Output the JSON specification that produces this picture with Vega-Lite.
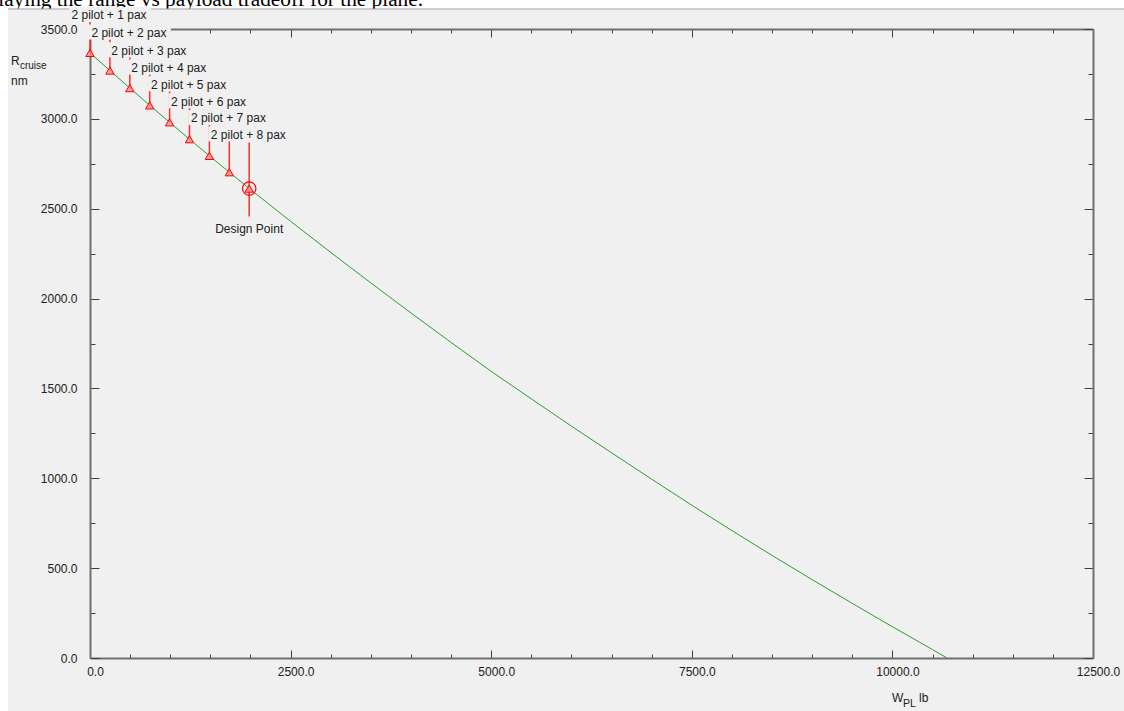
{
  "$schema": "https://vega.github.io/schema/vega-lite/v6.json",
  "width": 1003,
  "height": 629,
  "autosize": {"type": "none"},
  "padding": {"left": 90, "top": 29, "right": 31, "bottom": 53},
  "background": "#f0f0f0",
  "config": {"view": {"stroke": null}, "font": "Liberation Sans"},
  "datasets": {
    "curve": [
      {"W": 0, "R": 3367}, {"W": 250, "R": 3268}, {"W": 500, "R": 3170}, {"W": 750, "R": 3073},
      {"W": 1000, "R": 2978}, {"W": 1250, "R": 2883}, {"W": 1500, "R": 2790}, {"W": 1750, "R": 2698},
      {"W": 2000, "R": 2607}, {"W": 2500, "R": 2430}, {"W": 3000, "R": 2257}, {"W": 3500, "R": 2087},
      {"W": 4000, "R": 1920}, {"W": 4500, "R": 1756}, {"W": 5000, "R": 1595}, {"W": 5500, "R": 1442},
      {"W": 6000, "R": 1290}, {"W": 6500, "R": 1142}, {"W": 7000, "R": 995}, {"W": 7500, "R": 850},
      {"W": 8000, "R": 709}, {"W": 8500, "R": 571}, {"W": 9000, "R": 436}, {"W": 9500, "R": 304},
      {"W": 10000, "R": 174}, {"W": 10500, "R": 47}, {"W": 10680, "R": 0}
    ],
    "pts": [
      {"W": 0, "R": 3367, "kind": "pax", "label": "2 pilot + 1 pax"},
      {"W": 248, "R": 3269, "kind": "pax", "label": "2 pilot + 2 pax"},
      {"W": 496, "R": 3171, "kind": "pax", "label": "2 pilot + 3 pax"},
      {"W": 744, "R": 3075, "kind": "pax", "label": "2 pilot + 4 pax"},
      {"W": 992, "R": 2981, "kind": "pax", "label": "2 pilot + 5 pax"},
      {"W": 1240, "R": 2887, "kind": "pax", "label": "2 pilot + 6 pax"},
      {"W": 1488, "R": 2794, "kind": "pax", "label": "2 pilot + 7 pax"},
      {"W": 1736, "R": 2703, "kind": "pax", "label": "2 pilot + 8 pax"},
      {"W": 1984, "R": 2612, "kind": "design", "label": "Design Point"}
    ]
  },
  "resolve": {"axis": {"x": "independent", "y": "independent"}},
  "layer": [
    {
      "data": {"values": [{}]},
      "mark": {"type": "rect", "fill": "white"},
      "encoding": {
        "x": {"datum": -1200, "type": "quantitative", "scale": {"domain": [0, 12500], "nice": false}, "axis": null},
        "x2": {"datum": 13000},
        "y": {"datum": 3700, "type": "quantitative", "scale": {"domain": [0, 3500], "nice": false}, "axis": null},
        "y2": {"datum": 3611.3}
      }
    },
    {
      "data": {"values": [{}]},
      "mark": {"type": "rect", "fill": "white"},
      "encoding": {
        "x": {"datum": -1200, "type": "quantitative", "axis": null},
        "x2": {"datum": -1022},
        "y": {"datum": 3700, "type": "quantitative", "axis": null},
        "y2": {"datum": -400}
      }
    },
    {
      "data": {"values": [{}]},
      "mark": {"type": "text", "text": "Displaying the range vs payload tradeoff for the plane.", "font": "Liberation Serif", "fontSize": 21.3, "color": "black", "align": "left", "baseline": "alphabetic"},
      "encoding": {
        "x": {"datum": -1645, "type": "quantitative", "axis": null},
        "y": {"datum": 3628, "type": "quantitative", "axis": null}
      }
    },
    {
      "data": {"values": [{}]},
      "mark": {"type": "rect", "fill": "#f0f0f0"},
      "encoding": {
        "x": {"datum": -1022, "type": "quantitative", "axis": null},
        "x2": {"datum": 13000},
        "y": {"datum": 3611.3, "type": "quantitative", "axis": null},
        "y2": {"datum": 3594}
      }
    },
    {
      "data": {"values": [{}]},
      "mark": {"type": "rule", "color": "#a0a0a0", "strokeWidth": 1},
      "encoding": {
        "x": {"datum": -1022, "type": "quantitative", "axis": null},
        "x2": {"datum": 13000},
        "y": {"datum": 3611.3, "type": "quantitative", "axis": null}
      }
    },
    {
      "data": {"name": "curve"},
      "mark": {"type": "line", "color": "#2e9b2e", "strokeWidth": 1},
      "encoding": {
        "x": {"field": "W", "type": "quantitative", "scale": {"domain": [0, 12500], "nice": false},
          "axis": {"orient": "bottom", "title": null, "grid": false,
            "values": [0,500,1000,1500,2000,2500,3000,3500,4000,4500,5000,5500,6000,6500,7000,7500,8000,8500,9000,9500,10000,10500,11000,11500,12000,12500],
            "labelExpr": "datum.value % 2500 === 0 ? format(datum.value, '.1f') : ''",
            "tickSize": {"condition": {"test": "datum.value % 2500 === 0", "value": -8}, "value": -4},
            "tickColor": "#404040", "tickWidth": 1,
            "domainColor": "#707070", "domainWidth": 2,
            "labelFont": "Liberation Sans", "labelFontSize": 12, "labelColor": "#202020",
            "labelPadding": 16, "labelOffset": 5, "labelFlush": false, "labelOverlap": false, "labelBound": false}},
        "y": {"field": "R", "type": "quantitative", "scale": {"domain": [0, 3500], "nice": false},
          "axis": {"orient": "left", "title": null, "grid": false,
            "values": [0,250,500,750,1000,1250,1500,1750,2000,2250,2500,2750,3000,3250,3500],
            "labelExpr": "datum.value % 500 === 0 ? format(datum.value, '.1f') : ''",
            "tickSize": {"condition": {"test": "datum.value % 500 === 0", "value": -9}, "value": -5},
            "tickColor": "#404040", "tickWidth": 1,
            "domainColor": "#707070", "domainWidth": 2,
            "labelFont": "Liberation Sans", "labelFontSize": 12, "labelColor": "#202020",
            "labelPadding": 22, "labelFlush": false, "labelOverlap": false, "labelBound": false}}
      }
    },
    {
      "data": {"name": "pts"},
      "transform": [{"filter": "datum.kind === 'pax'"}],
      "mark": {"type": "rule", "color": "#ff2a2a", "strokeWidth": 1.5, "yOffset": -31},
      "encoding": {
        "x": {"field": "W", "type": "quantitative",
          "axis": {"orient": "top", "title": null, "grid": false, "labels": false,
            "values": [0,500,1000,1500,2000,2500,3000,3500,4000,4500,5000,5500,6000,6500,7000,7500,8000,8500,9000,9500,10000,10500,11000,11500,12000,12500],
            "tickSize": {"condition": {"test": "datum.value % 2500 === 0", "value": -8}, "value": -4},
            "tickColor": "#404040", "tickWidth": 1,
            "domainColor": "#707070", "domainWidth": 2}},
        "y": {"field": "R", "type": "quantitative",
          "axis": {"orient": "right", "title": null, "grid": false, "labels": false,
            "values": [0,250,500,750,1000,1250,1500,1750,2000,2250,2500,2750,3000,3250,3500],
            "tickSize": {"condition": {"test": "datum.value % 500 === 0", "value": -9}, "value": -5},
            "tickColor": "#404040", "tickWidth": 1,
            "domainColor": "#707070", "domainWidth": 2}},
        "y2": {"field": "R"}
      }
    },
    {
      "data": {"name": "pts"},
      "transform": [{"filter": "datum.kind === 'design'"}],
      "mark": {"type": "rule", "color": "#ff2a2a", "strokeWidth": 1.5, "yOffset": -46, "y2Offset": 28},
      "encoding": {
        "x": {"field": "W", "type": "quantitative", "axis": null},
        "y": {"field": "R", "type": "quantitative", "axis": null},
        "y2": {"field": "R"}
      }
    },
    {
      "data": {"name": "pts"},
      "transform": [{"filter": "datum.kind === 'pax'"}],
      "mark": {"type": "rect", "fill": "#f0f0f0", "xOffset": -21, "x2Offset": 61, "yOffset": -46, "y2Offset": -31},
      "encoding": {
        "x": {"field": "W", "type": "quantitative", "axis": null},
        "x2": {"field": "W"},
        "y": {"field": "R", "type": "quantitative", "axis": null},
        "y2": {"field": "R"}
      }
    },
    {
      "data": {"name": "pts"},
      "transform": [{"filter": "datum.kind === 'pax'"}],
      "mark": {"type": "text", "align": "left", "baseline": "alphabetic", "dx": -18.5, "dy": -33.5, "font": "Liberation Sans", "fontSize": 12, "color": "#202020"},
      "encoding": {
        "x": {"field": "W", "type": "quantitative", "axis": null},
        "y": {"field": "R", "type": "quantitative", "axis": null},
        "text": {"field": "label"}
      }
    },
    {
      "data": {"name": "pts"},
      "mark": {"type": "point", "shape": "triangle-up", "size": 70, "filled": true, "fill": "#ff8c8c", "fillOpacity": 0.8, "stroke": "#ff0000", "strokeWidth": 1, "strokeOpacity": 1},
      "encoding": {
        "x": {"field": "W", "type": "quantitative", "axis": null},
        "y": {"field": "R", "type": "quantitative", "axis": null}
      }
    },
    {
      "data": {"name": "pts"},
      "transform": [{"filter": "datum.kind === 'design'"}],
      "mark": {"type": "point", "shape": "circle", "size": 180, "filled": false, "stroke": "#ff0000", "strokeWidth": 1.2, "opacity": 1},
      "encoding": {
        "x": {"field": "W", "type": "quantitative", "axis": null},
        "y": {"field": "R", "type": "quantitative", "axis": null}
      }
    },
    {
      "data": {"name": "pts"},
      "transform": [{"filter": "datum.kind === 'design'"}],
      "mark": {"type": "text", "align": "center", "baseline": "alphabetic", "dy": 44.5, "font": "Liberation Sans", "fontSize": 12, "color": "#202020"},
      "encoding": {
        "x": {"field": "W", "type": "quantitative", "axis": null},
        "y": {"field": "R", "type": "quantitative", "axis": null},
        "text": {"field": "label"}
      }
    },
    {
      "data": {"values": [{}]},
      "mark": {"type": "text", "text": "R", "align": "left", "baseline": "alphabetic", "font": "Liberation Sans", "fontSize": 12, "color": "#202020"},
      "encoding": {
        "x": {"datum": -985, "type": "quantitative", "axis": null},
        "y": {"datum": 3297, "type": "quantitative", "axis": null}
      }
    },
    {
      "data": {"values": [{}]},
      "mark": {"type": "text", "text": "cruise", "align": "left", "baseline": "alphabetic", "font": "Liberation Sans", "fontSize": 10, "color": "#202020"},
      "encoding": {
        "x": {"datum": -873, "type": "quantitative", "axis": null},
        "y": {"datum": 3275, "type": "quantitative", "axis": null}
      }
    },
    {
      "data": {"values": [{}]},
      "mark": {"type": "text", "text": "nm", "align": "left", "baseline": "alphabetic", "font": "Liberation Sans", "fontSize": 12, "color": "#202020"},
      "encoding": {
        "x": {"datum": -985, "type": "quantitative", "axis": null},
        "y": {"datum": 3186, "type": "quantitative", "axis": null}
      }
    },
    {
      "data": {"values": [{}]},
      "mark": {"type": "text", "text": "W", "align": "left", "baseline": "alphabetic", "font": "Liberation Sans", "fontSize": 12, "color": "#202020"},
      "encoding": {
        "x": {"datum": 9995, "type": "quantitative", "axis": null},
        "y": {"datum": -245, "type": "quantitative", "axis": null}
      }
    },
    {
      "data": {"values": [{}]},
      "mark": {"type": "text", "text": "PL", "align": "left", "baseline": "alphabetic", "font": "Liberation Sans", "fontSize": 10.5, "color": "#202020"},
      "encoding": {
        "x": {"datum": 10132, "type": "quantitative", "axis": null},
        "y": {"datum": -273, "type": "quantitative", "axis": null}
      }
    },
    {
      "data": {"values": [{}]},
      "mark": {"type": "text", "text": "lb", "align": "left", "baseline": "alphabetic", "font": "Liberation Sans", "fontSize": 12, "color": "#202020"},
      "encoding": {
        "x": {"datum": 10331, "type": "quantitative", "axis": null},
        "y": {"datum": -245, "type": "quantitative", "axis": null}
      }
    }
  ]
}
